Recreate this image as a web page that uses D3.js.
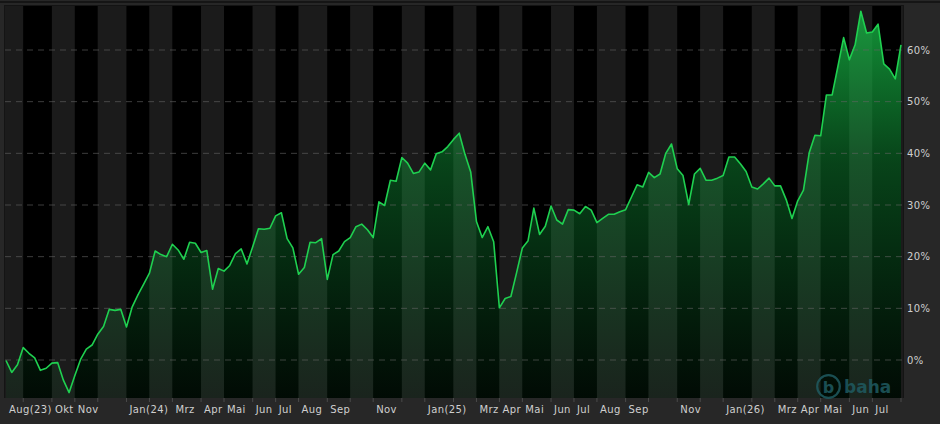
<!DOCTYPE html>
<html>
<head>
<meta charset="utf-8">
<script src="https://cdn.jsdelivr.net/npm/d3@7"></script>
<style>
  body { margin: 0; background: #272727; }
  svg { display: block; }
  text { font-family: "DejaVu Sans", sans-serif; }
</style>
</head>
<body>
<div id="chart"></div>
<script>
// weekly closes (Fridays), performance in %
const startDate = "2023-08-11"
const values = [
  -0.1, -2.4, -0.9, 2.4, 1.3, 0.4, -2.0, -1.6, -0.6, -0.5,
  -3.9, -6.3, -3.0, 0.1, 2.1, 2.9, 5.0, 6.5, 9.8, 9.6,
  9.8, 6.4, 10.3, 12.6, 14.7, 16.8, 21.1, 20.4, 20.0, 22.4,
  21.3, 19.5, 22.8, 22.6, 20.8, 21.2, 13.7, 17.7, 17.2, 18.3,
  20.6, 21.5, 18.6, 21.9, 25.4, 25.3, 25.5, 27.9, 28.5, 23.5,
  21.7, 16.6, 17.9, 22.8, 22.7, 23.5, 15.6, 20.4, 21.1, 22.9,
  23.7, 25.8, 26.3, 25.2, 23.7, 30.6, 29.9, 34.8, 34.6, 39.2,
  38.1, 36.1, 36.4, 38.1, 36.8, 39.9, 40.3, 41.3, 42.7, 43.9,
  39.8, 36.4, 26.8, 23.7, 25.8, 22.9, 10.1, 11.9, 12.3, 16.9,
  21.7, 23.1, 29.4, 24.3, 25.9, 29.8, 27.1, 26.3, 29.1, 29.0,
  28.3, 29.7, 29.0, 26.6, 27.4, 28.2, 28.2, 28.7, 29.1, 31.5,
  33.9, 33.5, 36.3, 35.3, 36.0, 40.0, 41.8, 37.0, 35.7, 30.1,
  36.0, 37.1, 34.8, 34.8, 35.2, 35.7, 39.3, 39.3, 38.0, 36.5,
  33.5, 33.1, 34.1, 35.2, 33.7, 33.7, 31.0, 27.4, 30.8, 32.9,
  40.1, 43.5, 43.4, 51.3, 51.3, 56.8, 62.4, 58.1, 61.0, 67.5,
  63.3, 63.5, 65.0, 57.3, 56.3, 54.4, 61.0
]
const yTicks = [0, 10, 20, 30, 40, 50, 60]
const xTickLabels = [
  ["2023-08", "Aug(23)"], ["2023-10", "Okt"], ["2023-11", "Nov"],
  ["2024-01", "Jan(24)"], ["2024-03", "Mrz"], ["2024-04", "Apr"],
  ["2024-05", "Mai"], ["2024-06", "Jun"], ["2024-07", "Jul"],
  ["2024-08", "Aug"], ["2024-09", "Sep"], ["2024-11", "Nov"],
  ["2025-01", "Jan(25)"], ["2025-03", "Mrz"], ["2025-04", "Apr"],
  ["2025-05", "Mai"], ["2025-06", "Jun"], ["2025-07", "Jul"],
  ["2025-08", "Aug"], ["2025-09", "Sep"], ["2025-11", "Nov"],
  ["2026-01", "Jan(26)"], ["2026-03", "Mrz"], ["2026-04", "Apr"],
  ["2026-05", "Mai"], ["2026-06", "Jun"], ["2026-07", "Jul"]
]

const width = 940, height = 424
const plot = {left: 5, top: 6, right: 903, bottom: 398}

const start = d3.timeParse("%Y-%m-%d")(startDate)
const dates = values.map((v, i) => d3.timeDay.offset(start, 7 * i))
const monthKey = d3.timeFormat("%Y-%m")

let x = d3.scaleLinear().domain([0, values.length - 1]).range([6, 901])
let y = d3.scaleLinear().domain([0, 60]).range([360, 50])

// first index of each month
let months = []
dates.forEach((d, i) => {
  let k = monthKey(d)
  if (!months.length || months[months.length - 1].key != k) months.push({key: k, i: i})
})

let svg = d3.select("#chart")
  .append("svg")
  .attr("width", width)
  .attr("height", height)

svg.append("rect").attr("width", width).attr("height", height).attr("fill", "#272727")
svg.append("line")
  .attr("x1", 0).attr("x2", width).attr("y1", 2).attr("y2", 2)
  .attr("stroke", "#151515").attr("stroke-width", 2)

svg.append("rect")
  .attr("x", plot.left - 1).attr("y", plot.top - 1)
  .attr("width", plot.right - plot.left + 2).attr("height", plot.bottom - plot.top + 1)
  .attr("fill", "#141414")

let defs = svg.append("defs")
defs.append("clipPath").attr("id", "clip")
  .append("rect")
  .attr("x", plot.left).attr("y", plot.top)
  .attr("width", plot.right - plot.left).attr("height", plot.bottom - plot.top)

let grad = defs.append("linearGradient")
  .attr("id", "fillgrad")
  .attr("gradientUnits", "userSpaceOnUse")
  .attr("x1", 0).attr("x2", 0)
  .attr("y1", plot.top).attr("y2", plot.bottom)
grad.append("stop").attr("offset", 0).attr("stop-color", "#17b043").attr("stop-opacity", 0.85)
grad.append("stop").attr("offset", 0.4).attr("stop-color", "#12a03c").attr("stop-opacity", 0.42)
grad.append("stop").attr("offset", 1).attr("stop-color", "#0e8a36").attr("stop-opacity", 0.08)

let g = svg.append("g").attr("clip-path", "url(#clip)")

// alternating month bands
g.selectAll("rect.band")
  .data(months)
  .enter()
  .append("rect")
  .attr("class", "band")
  .attr("x", (d, j) => j == 0 ? plot.left : x(d.i))
  .attr("y", plot.top)
  .attr("width", (d, j) => {
    let x0 = j == 0 ? plot.left : x(d.i)
    let x1 = j < months.length - 1 ? x(months[j + 1].i) : plot.right
    return x1 - x0
  })
  .attr("height", plot.bottom - plot.top)
  .attr("fill", (d, j) => j % 2 == 0 ? "#1b1b1b" : "#000")

let area = d3.area()
  .x((d, i) => x(i))
  .y0(plot.bottom)
  .y1(d => y(d))

g.append("path")
  .datum(values)
  .attr("d", area)
  .attr("fill", "url(#fillgrad)")

g.selectAll("line.grid")
  .data(yTicks)
  .enter()
  .append("line")
  .attr("class", "grid")
  .attr("x1", plot.left).attr("x2", plot.right)
  .attr("y1", d => y(d)).attr("y2", d => y(d))
  .attr("stroke", "#666")
  .attr("stroke-opacity", 0.6)
  .attr("stroke-dasharray", "6,5")

let line = d3.line()
  .x((d, i) => x(i))
  .y(d => y(d))

g.append("path")
  .datum(values)
  .attr("d", line)
  .attr("fill", "none")
  .attr("stroke", "#1fd050")
  .attr("stroke-width", 1.6)
  .attr("stroke-linejoin", "round")

// y labels on the right
svg.selectAll("text.ylab")
  .data(yTicks)
  .enter()
  .append("text")
  .attr("class", "ylab")
  .attr("x", 907)
  .attr("y", d => y(d) + 3.6)
  .attr("fill", "#cfcfcf")
  .attr("font-size", "10px")
  .attr("letter-spacing", "0.4px")
  .text(d => d + "%")

// month ticks
svg.selectAll("line.mtick")
  .data(months.slice(1))
  .enter()
  .append("line")
  .attr("class", "mtick")
  .attr("x1", d => x(d.i)).attr("x2", d => x(d.i))
  .attr("y1", plot.bottom).attr("y2", plot.bottom + 4)
  .attr("stroke", "#4a4a4a")

let firstIdx = new Map(months.map(m => [m.key, m.i]))
svg.selectAll("text.xlab")
  .data(xTickLabels)
  .enter()
  .append("text")
  .attr("class", "xlab")
  .attr("x", d => x(firstIdx.get(d[0])) + 3)
  .attr("y", 413)
  .attr("fill", "#cfcfcf")
  .attr("font-size", "10px")
  .attr("letter-spacing", "0.4px")
  .text(d => d[1])

// watermark
let logo = svg.append("g").attr("opacity", 0.85)
logo.append("circle")
  .attr("cx", 828.5).attr("cy", 386.5).attr("r", 11.3)
  .attr("fill", "none")
  .attr("stroke", "#1f5a60")
  .attr("stroke-width", 2.2)
logo.append("text")
  .attr("x", 828.5).attr("y", 392.5)
  .attr("text-anchor", "middle")
  .attr("font-size", "16px")
  .attr("font-weight", "bold")
  .attr("fill", "#1f5a60")
  .text("b")
logo.append("text")
  .attr("x", 844).attr("y", 393)
  .attr("font-size", "17px")
  .attr("font-weight", "bold")
  .attr("fill", "#1f5a60")
  .text("baha")
</script>
</body>
</html>
